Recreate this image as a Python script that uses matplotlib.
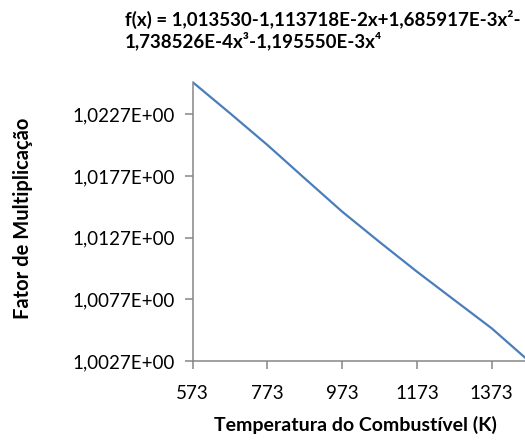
import matplotlib
matplotlib.use("Agg")
import matplotlib.pyplot as plt
from matplotlib.ticker import FixedLocator, FuncFormatter

plt.rcParams['font.family'] = ['Lato', 'DejaVu Sans']

temperature = [573, 673, 773, 873, 973, 1073, 1173, 1273, 1373, 1473]
factor = [1.02530, 1.02278, 1.02021, 1.01750, 1.01481, 1.01235, 1.00995, 1.00765, 1.00536, 1.00270]
x_ticks = [573, 773, 973, 1173, 1373]
y_ticks = [1.0027, 1.0077, 1.0127, 1.0177, 1.0227]

title_line1 = "f(x) = 1,013530-1,113718E-2x+1,685917E-3x²-"
title_line2 = "1,738526E-4x³-1,195550E-3x⁴"
xlabel = "Temperatura do Combustível (K)"
ylabel = "Fator de Multiplicação"

W, H = 525, 446
fig = plt.figure(figsize=(W / 100, H / 100), dpi=100)
ax = fig.add_axes([192.7 / W, (H - 361) / H, 336.2 / W, (361 - 81.7) / H])

ax.plot(temperature, factor, color='#4A7EBB', lw=1.6, solid_capstyle='butt')
ax.set_xlim(573, 1473)
ax.set_ylim(1.0027, 1.02534)

grey = '#868686'
for s in ['top', 'right']:
    ax.spines[s].set_visible(False)
for s in ['left', 'bottom']:
    ax.spines[s].set_color(grey)
    ax.spines[s].set_linewidth(1.1)

ax.xaxis.set_major_locator(FixedLocator(x_ticks))
ax.yaxis.set_major_locator(FixedLocator(y_ticks))
ax.xaxis.set_major_formatter(FuncFormatter(lambda v, p: f"{int(round(v))}"))
ax.yaxis.set_major_formatter(FuncFormatter(lambda v, p: f"{v:.4f}".replace('.', ',') + "E+00"))
ax.tick_params(axis='both', colors=grey, length=6, width=1.1, labelcolor='black', labelsize=13.5)
ax.tick_params(axis='x', pad=11)
ax.tick_params(axis='y', pad=7)

fig.text(125 / W, 1 - 19 / H, title_line1, ha='left', va='center', fontsize=13.5, fontweight='bold')
fig.text(125 / W, 1 - 41 / H, title_line2, ha='left', va='center', fontsize=13.5, fontweight='bold')
fig.text(355 / W, 1 - 425 / H, xlabel, ha='center', va='center', fontsize=14, fontweight='bold')
fig.text(23 / W, 1 - 218 / H, ylabel, ha='center', va='center', rotation=90, fontsize=14.5, fontweight='bold')

fig.savefig("out.png", dpi=100)
